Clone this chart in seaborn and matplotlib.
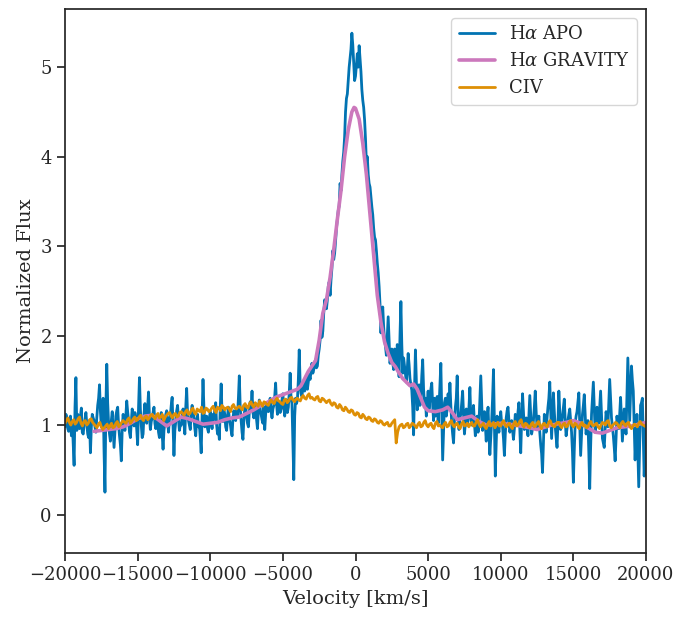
import numpy as np
import pandas as pd
import matplotlib
matplotlib.use("Agg")
import matplotlib.pyplot as plt
import seaborn as sns

# %% data
# H-alpha APO spectrum: values on a 125 km/s grid from -20000 to 20000 ...
apo_step = 125
apo_flux = [
    0.98, 1.08, 0.93, 1.10, 1.04, 0.55, 1.53, 1.12, 0.96, 1.19, 0.90, 1.06, 1.01, 0.86, 0.69, 1.12,
    1.05, 0.92, 1.22, 1.45, 0.98, 1.30, 0.25, 1.68, 1.02, 0.82, 1.15, 0.75, 1.10, 1.20, 0.88, 0.60,
    1.12, 0.94, 1.27, 1.05, 0.86, 1.18, 0.99, 1.08, 0.78, 1.53, 1.00, 0.90, 1.24, 1.02, 1.37, 0.95,
    1.08, 1.20, 0.96, 1.05, 0.86, 1.14, 0.73, 1.02, 1.16, 0.92, 1.10, 1.31, 0.66, 1.04, 1.22, 0.94,
    1.00, 1.18, 0.90, 1.41, 1.05, 0.95, 1.22, 1.08, 0.88, 1.12, 1.00, 0.69, 1.51, 0.98, 1.10, 0.92,
    1.15, 0.96, 1.06, 1.25, 0.90, 0.84, 1.46, 1.04, 1.12, 0.94, 1.20, 1.02, 0.88, 1.16, 1.05, 1.10,
    1.55, 1.05, 0.84, 1.18, 1.10, 0.98, 1.26, 1.38, 1.08, 1.20, 0.96, 1.28, 1.12, 1.02, 0.95, 1.24,
    1.15, 1.30, 1.08, 1.22, 1.47, 1.12, 1.26, 1.18, 1.35, 1.10, 1.28, 1.20, 1.58, 1.24, 0.39, 1.30,
    1.28, 1.84, 1.35, 1.42, 1.38, 1.55, 1.48, 1.51, 1.69, 1.62, 1.73, 1.66, 1.85, 2.17, 2.05, 2.40,
    2.30, 2.55, 2.45, 2.75, 2.85, 3.05, 3.30, 3.45, 3.62, 3.95, 4.22, 4.65, 4.85, 5.10, 5.38, 5.05,
    4.90, 5.15, 5.24, 4.95, 4.63, 4.41, 3.93, 3.80, 3.66, 3.44, 3.20, 3.07, 2.81, 2.55, 2.03, 2.32,
    1.95, 1.78, 2.21, 1.69, 1.85, 1.62, 1.75, 1.90, 1.54, 2.38, 1.58, 1.66, 1.48, 1.80, 1.52, 1.39,
    0.89, 1.84, 1.17, 1.45, 1.30, 1.73, 1.22, 1.10, 1.38, 1.28, 1.47, 1.05, 1.10, 1.32, 1.20, 1.69,
    0.61, 1.25, 1.10, 1.35, 1.47, 1.02, 0.80, 1.20, 1.55, 0.95, 1.12, 1.38, 0.90, 1.18, 1.05, 1.42,
    1.00, 1.22, 0.88, 1.10, 1.02, 1.55, 0.94, 1.15, 0.82, 1.20, 0.67, 1.05, 1.62, 0.43, 1.10, 0.92,
    1.15, 0.98, 0.66, 1.08, 1.20, 0.92, 1.05, 0.84, 1.12, 1.00, 1.25, 0.69, 1.35, 0.95, 1.08, 0.88,
    1.33, 0.90, 1.05, 1.38, 0.96, 1.10, 0.78, 0.47, 1.12, 0.92, 1.20, 1.48, 0.85, 1.36, 0.98, 0.75,
    1.38, 0.95, 1.10, 1.29, 0.88, 1.05, 1.18, 0.92, 0.36, 1.02, 1.15, 1.36, 0.66, 1.12, 1.34, 0.90,
    1.05, 0.29, 1.12, 1.48, 0.92, 1.20, 1.02, 1.38, 0.85, 0.75, 1.15, 0.98, 1.51, 1.08, 0.88, 0.60,
    1.10, 0.96, 1.31, 0.82, 1.18, 0.90, 1.75, 1.05, 1.66, 1.38, 0.61, 1.12, 0.31, 1.22, 1.30, 0.43,
    1.02,
]
# ... and the pixels in between (-19937.5, -19812.5, ..., 19937.5)
apo_flux_mid = [
    1.12, 0.96, 1.04, 0.88, 0.80, 1.20, 0.94, 1.02, 1.10, 0.92, 1.00, 1.14, 0.90, 1.05, 0.98, 1.08,
    0.98, 1.08, 1.30, 1.15, 1.10, 0.70, 1.20, 1.25, 0.90, 1.05, 0.96, 0.92, 1.16, 1.00, 0.78, 0.95,
    1.02, 1.10, 1.15, 0.92, 1.04, 1.08, 1.14, 0.95, 1.20, 1.18, 0.86, 1.12, 1.08, 1.20, 1.10, 1.04,
    1.14, 1.02, 1.10, 0.92, 1.00, 0.90, 0.94, 1.12, 1.04, 1.06, 1.22, 0.98, 0.94, 1.16, 1.06, 1.00,
    1.10, 1.02, 1.20, 1.12, 1.00, 1.14, 1.16, 0.96, 1.06, 0.98, 0.86, 1.10, 1.20, 1.06, 0.96, 1.08,
    1.04, 1.12, 1.18, 1.00, 0.96, 1.20, 1.12, 1.16, 0.98, 1.10, 1.06, 0.94, 1.08, 1.12, 1.18, 1.30,
    1.20, 0.92, 1.06, 1.22, 1.02, 1.14, 1.20, 1.14, 1.24, 1.06, 1.16, 1.18, 1.06, 1.20, 1.12, 1.18,
    1.24, 1.16, 1.18, 1.32, 1.24, 1.20, 1.14, 1.28, 1.20, 1.22, 1.14, 1.36, 1.30, 0.80, 1.10, 1.24,
    1.50, 1.46, 1.32, 1.48, 1.44, 1.40, 1.56, 1.60, 1.58, 1.70, 1.64, 1.78, 1.95, 1.98, 2.25, 2.35,
    2.40, 2.60, 2.62, 2.95, 2.92, 3.20, 3.40, 3.70, 3.80, 4.05, 4.50, 4.70, 5.00, 5.20, 5.25, 4.85,
    5.02, 5.00, 5.10, 4.75, 4.55, 4.20, 4.00, 3.70, 3.55, 3.35, 3.10, 2.95, 2.70, 2.35, 2.20, 2.10,
    1.88, 2.00, 1.95, 1.78, 1.70, 1.85, 1.66, 1.72, 2.00, 1.90, 1.75, 1.56, 1.62, 1.68, 1.45, 1.20,
    1.40, 1.50, 1.35, 1.22, 1.55, 1.40, 1.30, 1.25, 1.18, 1.40, 1.22, 1.30, 1.15, 1.02, 1.45, 1.15,
    0.95, 1.30, 1.18, 1.20, 1.22, 0.90, 1.05, 1.30, 1.15, 1.08, 1.25, 1.12, 1.02, 1.00, 1.20, 1.10,
    1.10, 1.02, 1.05, 0.92, 1.30, 1.25, 1.05, 1.00, 1.08, 0.90, 0.85, 1.30, 1.00, 0.80, 1.00, 1.05,
    1.02, 0.85, 0.90, 1.16, 1.05, 0.98, 0.94, 0.96, 1.04, 1.15, 0.95, 1.05, 1.15, 1.02, 0.96, 1.10,
    1.12, 0.96, 1.20, 1.15, 1.04, 0.92, 0.68, 0.80, 1.02, 1.08, 1.30, 1.15, 1.10, 1.15, 0.86, 1.02,
    1.15, 1.02, 1.20, 1.05, 0.96, 1.12, 1.05, 0.70, 0.72, 1.10, 1.25, 1.00, 0.90, 1.22, 1.12, 0.98,
    0.70, 0.75, 1.30, 1.20, 1.05, 1.10, 1.20, 1.12, 0.80, 0.95, 1.08, 1.25, 1.30, 0.98, 0.75, 0.85,
    1.02, 1.12, 1.05, 1.00, 1.04, 1.35, 1.40, 1.35, 1.50, 1.00, 0.90, 0.72, 0.78, 1.25, 0.88, 0.75,
]

# C IV spectrum: values on a 200 km/s grid from -20000 to 20000 ...
civ_step = 200
civ_flux = [
    1.02, 1.08, 1.00, 1.06, 1.03, 1.09, 0.99, 1.05, 1.02, 1.07,
    1.01, 0.97, 1.03, 0.95, 0.99, 0.96, 1.02, 0.98, 1.04, 1.00,
    1.05, 1.02, 1.08, 1.04, 1.09, 1.06, 1.11, 1.05, 1.10, 1.08,
    1.12, 1.07, 1.13, 1.09, 1.05, 1.11, 1.14, 1.08, 1.13, 1.10,
    1.15, 1.11, 1.17, 1.13, 1.19, 1.12, 1.16, 1.20, 1.14, 1.18,
    1.16, 1.21, 1.14, 1.19, 1.22, 1.17, 1.20, 1.15, 1.23, 1.18,
    1.21, 1.17, 1.24, 1.19, 1.26, 1.20, 1.23, 1.27, 1.21, 1.25,
    1.22, 1.28, 1.24, 1.30, 1.26, 1.23, 1.29, 1.27, 1.31, 1.26,
    1.30, 1.27, 1.33, 1.29, 1.35, 1.31, 1.28, 1.32, 1.26, 1.29,
    1.25, 1.28, 1.22, 1.24, 1.19, 1.21, 1.16, 1.18, 1.14, 1.16,
    1.11, 1.13, 1.08, 1.10, 1.06, 1.08, 1.04, 1.06, 1.02, 1.04,
    1.00, 1.03, 0.99, 1.04, 0.80, 0.98, 1.01, 0.98, 1.02, 0.99,
    1.01, 0.97, 1.03, 0.99, 1.05, 0.98, 1.02, 0.96, 1.04, 1.00,
    0.97, 1.03, 0.99, 1.05, 0.98, 1.02, 0.96, 1.04, 1.00, 0.98,
    1.03, 0.99, 1.06, 0.98, 1.02, 0.96, 1.04, 1.00, 0.97, 1.03,
    0.99, 1.05, 0.98, 1.02, 0.96, 1.04, 1.00, 1.06, 0.98, 1.01,
    0.97, 1.03, 0.99, 1.04, 0.96, 1.02, 0.98, 1.05, 0.99, 1.01,
    1.03, 0.97, 1.02, 0.99, 1.05, 0.98, 1.01, 0.96, 1.03, 1.00,
    0.98, 1.04, 0.99, 1.02, 0.96, 1.03, 1.00, 1.05, 0.97, 1.01,
    1.02, 0.97, 1.04, 0.99, 1.03, 0.96, 1.01, 0.98, 1.04, 1.00,
    0.98,
]
# ... and in between (-19900, -19700, ..., 19900)
civ_flux_mid = [
    1.05, 1.03, 1.04, 1.01, 1.07, 1.02, 1.04, 1.00, 1.06, 1.03,
    0.99, 1.01, 0.98, 0.97, 1.01, 0.99, 0.97, 1.02, 0.98, 1.03,
    1.03, 1.06, 1.02, 1.07, 1.05, 1.09, 1.07, 1.09, 1.06, 1.11,
    1.09, 1.11, 1.08, 1.12, 1.09, 1.13, 1.10, 1.12, 1.09, 1.14,
    1.13, 1.15, 1.12, 1.17, 1.14, 1.18, 1.15, 1.13, 1.19, 1.15,
    1.19, 1.17, 1.20, 1.16, 1.20, 1.19, 1.18, 1.21, 1.19, 1.20,
    1.19, 1.22, 1.20, 1.24, 1.22, 1.25, 1.21, 1.24, 1.26, 1.23,
    1.26, 1.25, 1.28, 1.27, 1.24, 1.28, 1.25, 1.30, 1.28, 1.29,
    1.28, 1.31, 1.30, 1.33, 1.30, 1.29, 1.31, 1.27, 1.30, 1.27,
    1.27, 1.24, 1.25, 1.20, 1.23, 1.17, 1.20, 1.15, 1.17, 1.12,
    1.14, 1.09, 1.12, 1.07, 1.09, 1.05, 1.07, 1.03, 1.05, 1.01,
    1.02, 0.99, 1.02, 1.06, 0.92, 1.00, 0.97, 1.01, 0.97, 1.02,
    0.99, 1.01, 0.98, 1.03, 1.00, 1.01, 0.98, 1.02, 0.99, 0.98,
    1.01, 0.98, 1.03, 1.00, 1.01, 0.98, 1.01, 0.99, 1.02, 1.01,
    0.99, 1.03, 1.01, 1.00, 0.98, 1.01, 0.99, 1.03, 1.01, 0.99,
    1.03, 1.00, 1.01, 0.98, 1.02, 0.99, 1.04, 1.00, 1.02, 0.98,
    1.01, 0.98, 1.02, 0.99, 1.01, 0.99, 1.03, 1.01, 0.98, 1.03,
    0.99, 1.01, 0.98, 1.03, 1.00, 1.02, 0.98, 1.01, 0.99, 0.97,
    1.02, 1.00, 1.01, 0.98, 1.00, 1.02, 1.04, 0.99, 1.00, 1.03,
    0.99, 1.02, 1.01, 1.02, 0.98, 0.99, 1.00, 1.02, 1.01, 0.99,
]

# H-alpha GRAVITY (smooth profile)
grav_vel = [
    -18000, -17500, -17000, -16500, -16000, -15500, -15000, -14500, -14000, -13500,
    -13000, -12500, -12000, -11500, -11000, -10500, -10000, -9500, -9000, -8500,
    -8000, -7500, -7000, -6500, -6000, -5500, -5000, -4500, -4000, -3750,
    -3500, -3250, -3000, -2750, -2500, -2250, -2000, -1750, -1500, -1250,
    -1000, -750, -500, -250, -100, 0, 250, 500, 750, 1000,
    1250, 1500, 1750, 2000, 2250, 2500, 2750, 3000, 3250, 3500,
    3750, 4000, 4250, 4500, 4750, 5000, 5500, 6000, 6350, 6750,
    7000, 7500, 8000, 8500, 9000, 10000, 11000, 12000, 12500, 13500,
    14500, 15000, 15500, 16000, 16500, 17000, 17500, 18000, 19000, 20000,
]
grav_flux = [
    0.93, 0.94, 0.95, 0.96, 0.98, 1.02, 1.07, 1.10, 1.11, 1.05,
    0.99, 1.04, 1.09, 1.07, 1.04, 1.01, 1.02, 1.03, 1.06, 1.08,
    1.09, 1.13, 1.17, 1.22, 1.26, 1.31, 1.34, 1.37, 1.40, 1.44,
    1.52, 1.60, 1.66, 1.72, 1.95, 2.25, 2.40, 2.65, 2.96, 3.30,
    3.62, 4.00, 4.30, 4.50, 4.55, 4.54, 4.42, 4.15, 3.80, 3.35,
    2.90, 2.45, 2.15, 1.93, 1.80, 1.70, 1.65, 1.58, 1.52, 1.48,
    1.44, 1.46, 1.40, 1.30, 1.20, 1.16, 1.15, 1.17, 1.20, 1.12,
    1.06, 1.08, 1.10, 1.04, 1.00, 1.02, 1.00, 0.97, 0.95, 1.00,
    1.03, 1.05, 1.02, 0.97, 0.92, 0.91, 0.94, 0.97, 0.99, 1.03,
]

apo = pd.concat([
    pd.DataFrame({"vel": -20000 + apo_step * np.arange(len(apo_flux)), "flux": apo_flux}),
    pd.DataFrame({"vel": -20000 + apo_step * (np.arange(len(apo_flux_mid)) + 0.5),
                  "flux": apo_flux_mid}),
]).sort_values("vel")
civ = pd.concat([
    pd.DataFrame({"vel": -20000 + civ_step * np.arange(len(civ_flux)), "flux": civ_flux}),
    pd.DataFrame({"vel": -20000 + civ_step * (np.arange(len(civ_flux_mid)) + 0.5),
                  "flux": civ_flux_mid}),
]).sort_values("vel")
grav = pd.DataFrame({"vel": grav_vel, "flux": grav_flux})

# %% plot
sns.set_theme(context="notebook", style="ticks", palette="colorblind")
plt.rcParams["font.family"] = ["DejaVu Serif"]
plt.rcParams["mathtext.fontset"] = "dejavuserif"
pal = sns.color_palette("colorblind")

fig = plt.figure(figsize=(6.78, 6.17), dpi=100)
ax = fig.add_axes([0.0959, 0.1037, 0.8569, 0.8817])

sns.lineplot(data=apo, x="vel", y="flux", ax=ax, color=pal[0], lw=2.0,
             estimator=None, label=r"H$\alpha$ APO")
sns.lineplot(data=grav, x="vel", y="flux", ax=ax, color=pal[4], lw=2.6,
             estimator=None, label=r"H$\alpha$ GRAVITY")
sns.lineplot(data=civ, x="vel", y="flux", ax=ax, color=pal[1], lw=2.0,
             estimator=None, label="CIV")

ax.set_xlim(-20000, 20000)
ax.set_ylim(-0.43, 5.65)
ax.set_xticks(np.arange(-20000, 20001, 5000))
ax.set_yticks(np.arange(0, 6, 1))
ax.tick_params(labelsize=13)
ax.set_xlabel("Velocity [km/s]", fontsize=14)
ax.set_ylabel("Normalized Flux", fontsize=14)
ax.legend(loc="upper right", fontsize=13)

fig.savefig("out.png", dpi=100)
